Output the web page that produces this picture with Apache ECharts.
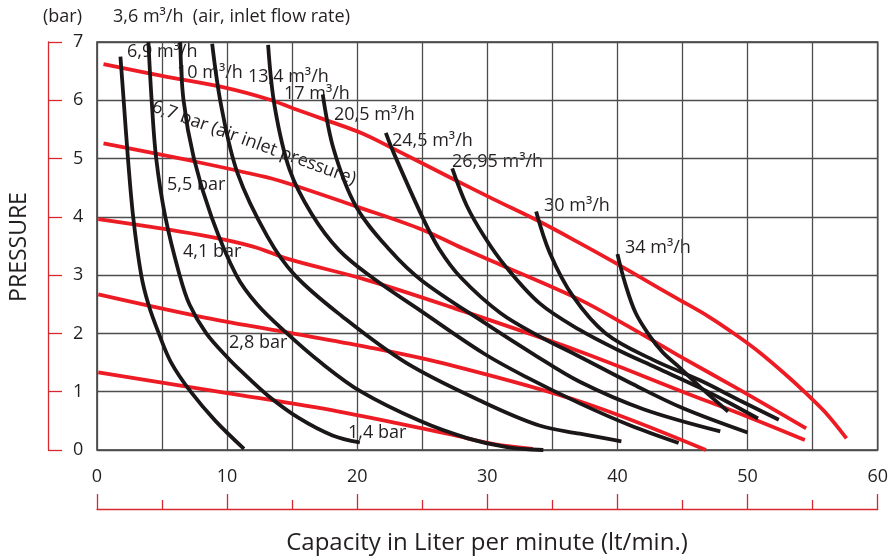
<!DOCTYPE html>
<html><head><meta charset="utf-8">
<script src="https://cdn.jsdelivr.net/npm/echarts@6/dist/echarts.min.js"></script>
<style>html,body{margin:0;padding:0;background:#fff}#c{width:891px;height:560px}</style>
</head><body><div id="c"></div>
<script>
// ---- data ----
const xRange = [0, 60];
const yRange = [0, 7];
const pressureNames = ['6,7 bar', '5,5 bar', '4,1 bar', '2,8 bar', '1,4 bar'];
const p67 = [[0.5,6.62],[5,6.42],[10,6.21],[13.3,6.01],[15.1,5.86],[17.6,5.66],[20.4,5.43],[22.5,5.2],[27.1,4.68],[30.5,4.3],[34,3.92],[37.1,3.55],[39.6,3.24],[42,2.93],[44.5,2.61],[47,2.29],[49.2,1.96],[51,1.66],[53.2,1.24],[54.5,0.97],[56,0.64],[57.6,0.2]];
const p55 = [[0.5,5.26],[7.5,4.95],[13,4.68],[15,4.55],[19.9,4.18],[25,3.78],[28.1,3.46],[31,3.18],[37.1,2.58],[41,2.1],[44.7,1.62],[49.4,1.03],[54.5,0.37]];
const p41 = [[0.1,3.96],[7.9,3.69],[12,3.49],[14.8,3.27],[20.7,2.92],[27.1,2.46],[37.1,1.69],[45,1.0],[50,0.57],[54.4,0.17]];
const p28 = [[0.1,2.67],[7.9,2.29],[14.3,2.03],[20.7,1.77],[27.1,1.46],[37.3,0.82],[46.8,0.0]];
const p14 = [[0.1,1.33],[9.9,0.98],[18.6,0.66],[27.1,0.27],[30.5,0.1],[33.5,0.02]];

const flowNames = ['3,6 m³/h', '6,9 m³/h', '10 m³/h', '13,4 m³/h', '17 m³/h', '20,5 m³/h', '24,5 m³/h', '26,95 m³/h', '30 m³/h', '34 m³/h'];
const f36 = [[1.8,6.75],[2.05,6.0],[2.38,5.0],[2.78,4.0],[3.4,3.0],[3.95,2.5],[4.75,2.0],[5.7,1.5],[7.2,1.0],[9.1,0.5],[11.3,0.02]];
const f69 = [[3.95,7.0],[4.2,6.0],[4.55,5.0],[5.25,4.0],[6.35,3.0],[7.1,2.5],[8.4,2.0],[10.1,1.57],[11.0,1.37],[13.1,0.94],[15.5,0.55],[18.1,0.25],[20.2,0.13]];
const f10 = [[6.4,7.0],[6.65,6.0],[7.45,5.0],[8.8,4.0],[10.7,3.0],[12.3,2.5],[14.6,2.0],[17.2,1.5],[20.3,1.0],[24.8,0.5],[28.5,0.2],[31.5,0.05],[34.3,0.0]];
const f134 = [[8.85,6.97],[9.55,5.9],[10.8,4.75],[13.1,3.66],[15.2,3.0],[18.8,2.3],[23.8,1.49],[29.7,0.82],[34,0.42],[37.1,0.28],[40.3,0.15]];
const f17 = [[13.15,6.95],[13.65,5.9],[14.8,4.81],[16.5,4.05],[18.6,3.43],[21.2,2.95],[24.8,2.4],[29.7,1.66],[33,1.25],[37.1,0.8],[41,0.42],[44.7,0.12]];
const f205 = [[17.35,6.1],[18.2,5.15],[19.9,4.18],[22.5,3.43],[25,2.9],[30,2.15],[33.5,1.65],[37.1,1.17],[42,0.7],[47.9,0.32]];
const f245 = [[22.2,5.44],[22.7,5.15],[25.0,4.0],[26.3,3.45],[28,2.95],[31,2.35],[34,1.95],[37.1,1.6],[41,1.15],[45,0.72],[50,0.3]];
const f2695 = [[27.3,4.83],[28.4,4.2],[29.8,3.65],[31.4,3.15],[34,2.52],[37.1,2.06],[40,1.72],[43,1.41],[46.3,1.07],[48.5,0.82],[50.8,0.54]];
const f30 = [[33.75,4.09],[34.8,3.38],[36.6,2.63],[39.1,2.0],[42.7,1.55],[46.3,1.2],[49.4,0.85],[52.4,0.52]];
const f34 = [[40.0,3.36],[40.6,2.85],[41.4,2.35],[42.5,1.95],[43.5,1.67],[44.7,1.43],[46.6,1.03],[48.5,0.66]];

const pressureSeries = [p67, p55, p41, p28, p14];
const flowSeries = [f36, f69, f10, f134, f17, f205, f245, f2695, f30, f34];

const xTitle = 'Capacity in Liter per minute (lt/min.)';
const yTitle = 'PRESSURE';
const yUnit = '(bar)';
const flowNote = '(air, inlet flow rate)';
const pressureNote = '(air inlet pressure)';

// ---- styles ----
const FONT = '"Open Sans", "Noto Sans", sans-serif';
const TXT = '#231f20';
const RED = '#ed1c24';
const AXRED = '#d7282f';
const BLACK = '#1b1718';
const GRIDC = '#4d4d4d';

const series = [];
pressureSeries.forEach((d, i) => series.push({
  name: pressureNames[i], type: 'line', data: d, showSymbol: false, symbol: 'none',
  smooth: 0.35, z: 2, silent: true,
  lineStyle: { color: RED, width: 3.8, cap: 'butt' }
}));
flowSeries.forEach((d, i) => series.push({
  name: flowNames[i], type: 'line', data: d, showSymbol: false, symbol: 'none',
  smooth: 0.35, z: 3, silent: true,
  lineStyle: { color: BLACK, width: 3.8, cap: 'butt' }
}));

function t(text, x, y, opts) {
  return Object.assign({
    type: 'text', x: x, y: y, z: 0,
    style: Object.assign({ text: text, fontSize: 18, fontFamily: FONT, fill: TXT, align: 'left', verticalAlign: 'middle' }, (opts && opts.style) || {})
  }, opts ? { rotation: opts.rotation || 0 } : {});
}

const graphic = [
  t(yUnit, 43, 17),
  t(flowNames[0] + '  ' + flowNote, 113, 17),
  t(flowNames[1], 127, 52),
  t(flowNames[2], 177, 73),
  t(flowNames[3], 248, 77),
  t(flowNames[4], 284, 94),
  t(flowNames[5], 334, 115),
  t(flowNames[6], 392, 141),
  t(flowNames[7], 452, 162),
  t(flowNames[8], 544, 206),
  t(flowNames[9], 625, 248),
  t(pressureNames[0] + ' ' + pressureNote, 254, 143, { rotation: -20 * Math.PI / 180, style: { align: 'center' } }),
  t(pressureNames[1], 167, 185),
  t(pressureNames[2], 183, 252),
  t(pressureNames[3], 229, 343),
  t(pressureNames[4], 348, 433),
  t(yTitle, 19, 247, { rotation: Math.PI / 2, style: { align: 'center', fontSize: 23 } }),
  t(xTitle, 487, 543, { style: { align: 'center', fontSize: 24 } })
];

const chart = echarts.init(document.getElementById('c'), null, { renderer: 'canvas' });
chart.setOption({
  animation: false,
  backgroundColor: '#fff',
  grid: { left: 97, right: 12, top: 42, bottom: 110, show: true, borderColor: '#333', borderWidth: 1.5, backgroundColor: 'transparent' },
  xAxis: {
    type: 'value', min: xRange[0], max: xRange[1], interval: 10, offset: 59,
    axisLine: { show: true, onZero: false, lineStyle: { color: AXRED, width: 1.3 } },
    axisTick: { show: true, inside: true, length: 15, lineStyle: { color: AXRED, width: 1.3 } },
    minorTick: { show: true, splitNumber: 2, length: 9, lineStyle: { color: AXRED, width: 1.3 } },
    axisLabel: { inside: true, margin: 23, color: TXT, fontSize: 18, fontFamily: FONT },
    splitLine: { show: true, lineStyle: { color: GRIDC, width: 1.3 } },
    minorSplitLine: { show: true, lineStyle: { color: GRIDC, width: 1.3 } }
  },
  yAxis: {
    type: 'value', min: yRange[0], max: yRange[1], interval: 1, offset: 49,
    axisLine: { show: true, onZero: false, lineStyle: { color: AXRED, width: 1.3 } },
    axisTick: { show: true, inside: true, length: 14, lineStyle: { color: AXRED, width: 1.3 } },
    axisLabel: { inside: true, margin: 25, color: TXT, fontSize: 18, fontFamily: FONT },
    splitLine: { show: true, lineStyle: { color: GRIDC, width: 1.3 } }
  },
  graphic: graphic,
  series: series
});
</script></body></html>
